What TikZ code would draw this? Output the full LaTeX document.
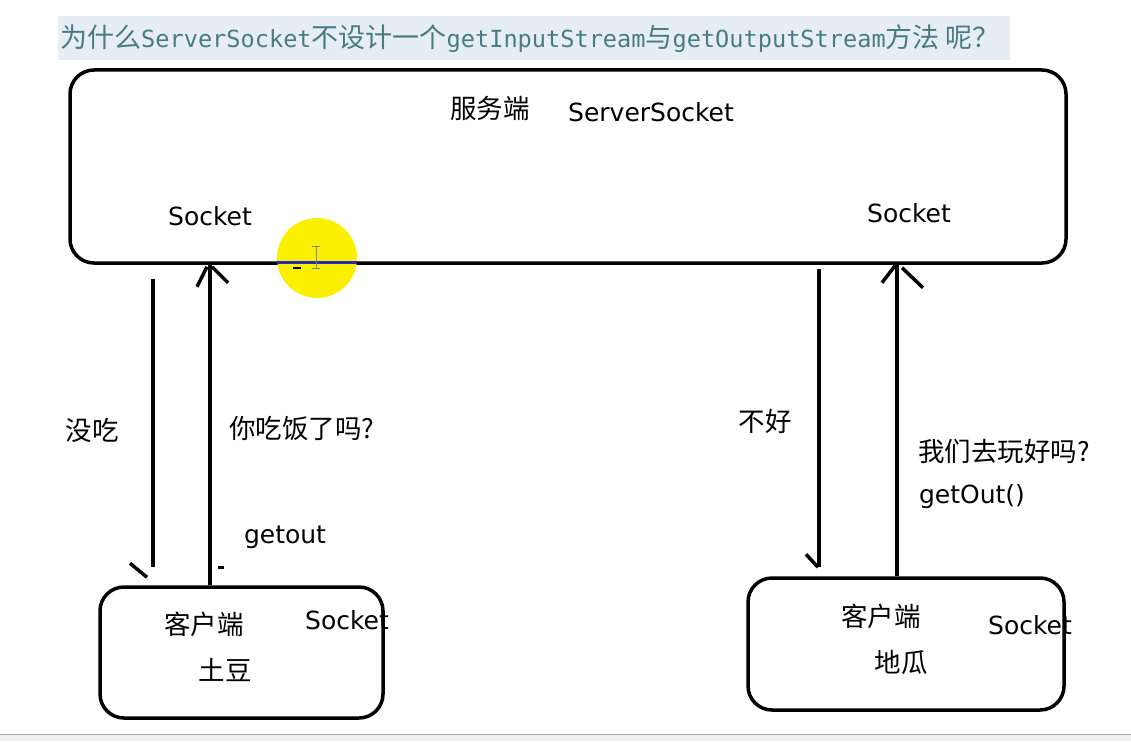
\documentclass[tikz,border=0pt]{standalone}
\usepackage{fontspec}
\setmainfont{DejaVu Sans}
\newfontfamily\cjk{Noto Sans CJK SC}
\newfontfamily\titlemono{DejaVu Sans Mono}
\usetikzlibrary{positioning}
\definecolor{titlebg}{RGB}{230,237,245}
\definecolor{titlefg}{RGB}{72,124,130}
\definecolor{markyellow}{RGB}{250,240,0}
\definecolor{markblue}{RGB}{40,40,190}
\definecolor{barline}{RGB}{170,170,170}
\definecolor{barfill}{RGB}{240,240,240}

\tikzset{
  box/.style={draw, line width=3.5pt, rounded corners=24pt},
  lbl/.style={inner sep=0pt, font=\fontsize{25}{28}\selectfont},
  zh/.style={inner sep=0pt, font=\cjk\fontsize{26.5}{29}\selectfont},
  stroke/.style={line width=3.5pt},
}

\begin{document}
\begin{tikzpicture}[x=1pt,y=-1pt]
\useasboundingbox (0,0) rectangle (1131,741);

% title line
\fill[titlebg] (58,16) rectangle (1010,60);
\node[anchor=west, inner sep=0pt, text=titlefg] (title) at (60,39)
  {\cjk\fontsize{27}{30}\selectfont 为什么{\titlemono\fontsize{23.6}{30}\selectfont ServerSocket}不设计一个{\titlemono\fontsize{23.6}{30}\selectfont getInputStream}与{\titlemono\fontsize{23.6}{30}\selectfont getOutputStream}方法 呢？};

% boxes
\node[box, minimum width=996pt, minimum height=193pt] (srv) at (568,166.5) {};
\node[box, minimum width=283pt, minimum height=131pt] (cl) at (241.5,652.5) {};
\node[box, minimum width=316pt, minimum height=132pt] (cr) at (906,644) {};

% server
\node[zh] (srvzh) at (490,108) {服务端};
\node[lbl] (srvname) at (651,112) {ServerSocket};
\node[lbl] (sockl) at (210,216) {Socket};
\node[lbl] (sockr) at (909,213) {Socket};

% clients
\node[zh] (clzh) at (204,624) {客户端};
\node[lbl] (clsock) at (347,620) {Socket};
\node[zh] (clname) at (225,670) {土豆};
\node[zh] (crzh) at (881,616) {客户端};
\node[lbl] (crsock) at (1030,625) {Socket};
\node[zh] (crname) at (901,662) {地瓜};

% messages
\node[zh] (m1) at (92,430) {没吃};
\node[zh] (m2) at (302,428) {你吃饭了吗?};
\node[lbl] (m3) at (285,537) {getout};
\node[zh] (m4) at (765,421) {不好};
\node[zh] (m5) at (1004,451) {我们去玩好吗?};
\node[lbl] (m6) at (972,497) {getOut()};

% arrows
\path (153,0) coordinate (xa) (210,0) coordinate (xb)
      (819,0) coordinate (xc) (897,0) coordinate (xd);
\draw[stroke] ([yshift=-14pt]srv.south -| xa) -- ([yshift=18pt]cl.north -| xa);
\draw[stroke] ([yshift=18pt]cl.north -| xa) ++(-23,-4) -- ++(17,14);
\draw[stroke] (cl.north -| xb) -- (srv.south -| xb);
\draw[stroke] (srv.south -| xb) ++(-13,22) -- ++(10,-20);
\draw[stroke] (srv.south -| xb) ++(2,2) -- ++(16,16);
\fill (218,566) rectangle (224,569);
\draw[stroke] ([yshift=-4pt]srv.south -| xc) -- ([yshift=9pt]cr.north -| xc);
\draw[stroke] ([yshift=9pt]cr.north -| xc) ++(-13,-13) -- ++(12,13);
\draw[stroke] (cr.north -| xd) -- (srv.south -| xd);
\draw[stroke] (srv.south -| xd) ++(-15,18) -- ++(13,-17);
\draw[stroke] (srv.south -| xd) ++(5,3) -- ++(21,20);

% cursor highlight
\fill[markyellow] (317,258) circle (40);
\draw[markblue, line width=3pt] (277,262) -- (357,262);
\draw[gray, line width=1pt] (316,246) -- (316,268) (312,246) -- (320,246) (312,268) -- (320,268);
\fill[black] (293,267) rectangle (301,269);

% bottom bar
\fill[barfill] (0,734) rectangle (1131,741);
\draw[barline, line width=1pt] (0,734) -- (1131,734);
\end{tikzpicture}
\end{document}
